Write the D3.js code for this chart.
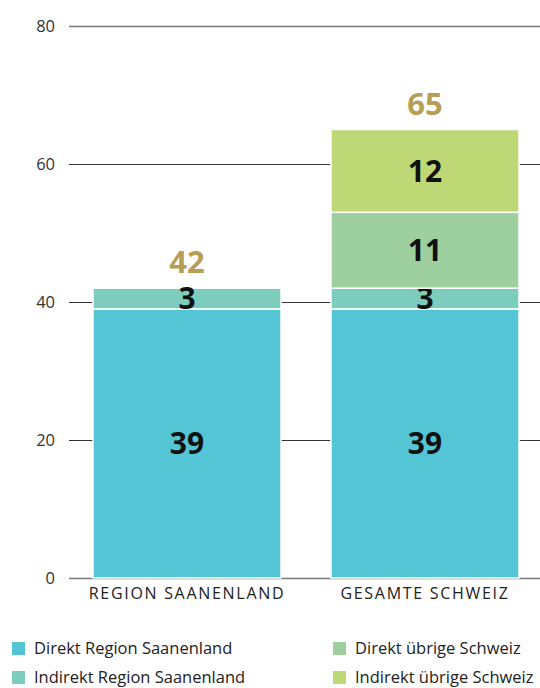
<!DOCTYPE html>
<html>
<head>
<meta charset="utf-8">
<script src="https://cdn.jsdelivr.net/npm/d3@7"></script>
<style>
  body { margin: 0; background: #fff; }
  text { font-family: "Open Sans", "Noto Sans", sans-serif; }
</style>
</head>
<body>
<div id="chart"></div>
<script>
// data
var categories = ["REGION SAANENLAND", "GESAMTE SCHWEIZ"];
var seriesNames = ["Direkt Region Saanenland", "Indirekt Region Saanenland", "Direkt übrige Schweiz", "Indirekt übrige Schweiz"];
var seriesColors = ["#54c5d5", "#7dcdbf", "#9dd09e", "#bdd874"];
var direktRegion = [39, 39];
var indirektRegion = [3, 3];
var direktUebrige = [0, 11];
var indirektUebrige = [0, 12];
var yTicks = [0, 20, 40, 60, 80];

var width = 540, height = 688;
var margin = { top: 26, right: 0, bottom: 110, left: 69 };

var svg = d3.select("#chart").append("svg")
    .attr("width", width)
    .attr("height", height);

var y = d3.scaleLinear()
    .domain([0, 80])
    .range([height - margin.bottom, margin.top]);

var x = d3.scaleBand()
    .domain(categories)
    .range([68, 544])
    .paddingInner(0.21)
    .paddingOuter(0.105);

// gridlines
svg.append("g")
    .selectAll("line")
    .data(yTicks)
    .enter().append("line")
    .attr("x1", margin.left)
    .attr("x2", width)
    .attr("y1", function (d) { return Math.round(y(d)) + 0.5; })
    .attr("y2", function (d) { return Math.round(y(d)) + 0.5; })
    .attr("stroke", function (d) { return (d == 0 || d == 80) ? "#7a7a7a" : "#333"; })
    .attr("stroke-width", function (d) { return (d == 0 || d == 80) ? 1.5 : 1; });

// y tick labels
svg.append("g")
    .selectAll("text")
    .data(yTicks)
    .enter().append("text")
    .attr("x", 55)
    .attr("y", function (d) { return y(d); })
    .attr("dy", "0.35em")
    .attr("text-anchor", "end")
    .attr("font-size", 16.5)
    .attr("fill", "#333")
    .text(function (d) { return d; });

// stack
var rows = categories.map(function (c, i) {
    return { cat: c, s0: direktRegion[i], s1: indirektRegion[i], s2: direktUebrige[i], s3: indirektUebrige[i] };
});
var stack = d3.stack().keys(["s0", "s1", "s2", "s3"]);
var layers = stack(rows);

var groups = svg.append("g")
    .selectAll("g")
    .data(layers)
    .enter().append("g")
    .attr("fill", function (d, i) { return seriesColors[i]; });

groups.selectAll("rect")
    .data(function (d) { return d.filter(function (p) { return p[1] - p[0] > 0; }); })
    .enter().append("rect")
    .attr("x", function (d) { return x(d.data.cat); })
    .attr("width", x.bandwidth())
    .attr("y", function (d) { return y(d[1]); })
    .attr("height", function (d) { return y(d[0]) - y(d[1]); })
    .attr("stroke", "#fff")
    .attr("stroke-width", 1.5);

// segment labels
groups.selectAll("text")
    .data(function (d) { return d.filter(function (p) { return p[1] - p[0] > 0; }); })
    .enter().append("text")
    .attr("x", function (d) { return x(d.data.cat) + x.bandwidth() / 2; })
    .attr("y", function (d) { return (y(d[0]) + y(d[1])) / 2; })
    .attr("dy", "0.36em")
    .attr("text-anchor", "middle")
    .attr("font-size", 30)
    .attr("font-weight", "bold")
    .attr("fill", "#111")
    .text(function (d) { return d[1] - d[0]; });

// totals
svg.append("g")
    .selectAll("text")
    .data(rows)
    .enter().append("text")
    .attr("x", function (d) { return x(d.cat) + x.bandwidth() / 2; })
    .attr("y", function (d) { return y(d.s0 + d.s1 + d.s2 + d.s3) - 26; })
    .attr("dy", "0.36em")
    .attr("text-anchor", "middle")
    .attr("font-size", 31)
    .attr("font-weight", "bold")
    .attr("fill", "#b89d54")
    .text(function (d) { return d.s0 + d.s1 + d.s2 + d.s3; });

// category labels
svg.append("g")
    .selectAll("text")
    .data(categories)
    .enter().append("text")
    .attr("x", function (d) { return x(d) + x.bandwidth() / 2; })
    .attr("y", 593)
    .attr("dy", "0.35em")
    .attr("text-anchor", "middle")
    .attr("font-size", 16)
    .attr("letter-spacing", "1.7px")
    .attr("fill", "#222")
    .text(function (d) { return d; });

// legend
var legendPos = [[12, 648], [12, 677], [333, 648], [333, 677]];
var legend = svg.append("g")
    .selectAll("g")
    .data(seriesNames)
    .enter().append("g")
    .attr("transform", function (d, i) { return "translate(" + legendPos[i][0] + "," + legendPos[i][1] + ")"; });
legend.append("rect")
    .attr("x", 0)
    .attr("y", -6)
    .attr("width", 13)
    .attr("height", 13)
    .attr("fill", function (d, i) { return seriesColors[i]; });
legend.append("text")
    .attr("x", 22)
    .attr("y", 0)
    .attr("dy", "0.35em")
    .attr("font-size", 16.5)
    .attr("fill", "#222")
    .text(function (d) { return d; });
</script>
</body>
</html>
